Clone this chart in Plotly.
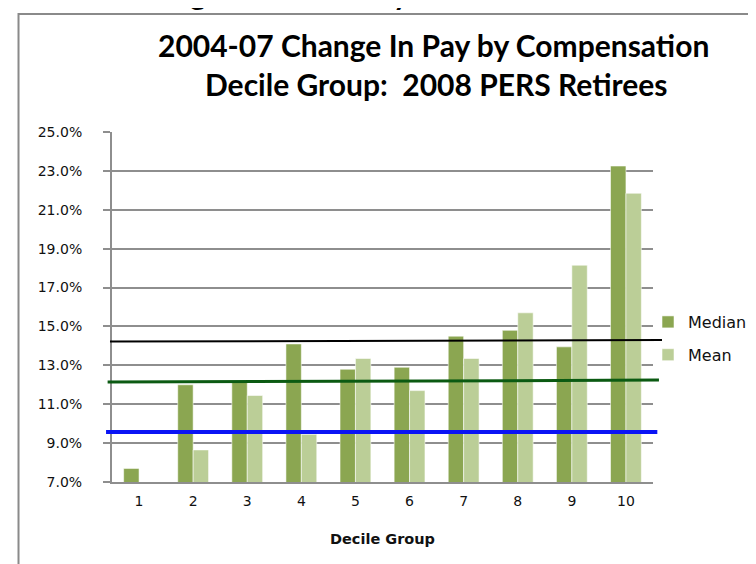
import plotly.graph_objects as go

# ---- data ----
deciles = ["1", "2", "3", "4", "5", "6", "7", "8", "9", "10"]
median_change = [7.7, 12.0, 12.15, 14.1, 12.8, 12.9, 14.5, 14.8, 13.95, 23.25]
mean_change = [7.0, 8.65, 11.45, 9.45, 13.35, 11.7, 13.35, 15.7, 18.15, 21.85]

# horizontal reference lines (value at left end, value at right end)
ref_black = [14.22, 14.30]
ref_green = [12.14, 12.24]
ref_blue = [9.57, 9.57]

y_ticks = [7, 9, 11, 13, 15, 17, 19, 21, 23, 25]
y_tick_labels = [f"{v:.1f}%" for v in y_ticks]

title_line1 = "2004-07 Change In Pay by Compensation"
title_line2 = "Decile Group:  2008 PERS Retirees"

MEDIAN_COLOR = "#8BA651"
MEAN_COLOR = "#BBCE97"
GRID = "#8e8e8e"

fig = go.Figure()
fig.add_bar(
    x=deciles, y=median_change, name="Median", legendgroup="median",
    marker=dict(color=MEDIAN_COLOR, line=dict(color="rgba(255,255,255,0.55)", width=1)),
)
fig.add_bar(
    x=deciles, y=mean_change, name="Mean", legendgroup="mean",
    marker=dict(color=MEAN_COLOR, line=dict(color="rgba(255,255,255,0.55)", width=1)),
)

shapes = [
    # outer chart frame (partly outside the picture)
    dict(type="rect", xref="paper", yref="paper", x0=-0.1728, x1=1.3, y0=-0.5, y1=1.337,
         line=dict(color="#8a8a8a", width=2), fillcolor="rgba(0,0,0,0)", layer="below"),
    dict(type="line", xref="paper", yref="y", x0=-0.0037, x1=1.0166,
         y0=ref_black[0], y1=ref_black[1], line=dict(color="#000000", width=2)),
    dict(type="line", xref="paper", yref="y", x0=-0.0081, x1=1.011,
         y0=ref_green[0], y1=ref_green[1], line=dict(color="#0B5A12", width=3)),
    dict(type="line", xref="paper", yref="y", x0=-0.011, x1=1.008,
         y0=ref_blue[0], y1=ref_blue[1], line=dict(color="#0A14F5", width=4)),
]

title_font = dict(family="Lato", size=30, color="#000000", weight="bold")
annotations = [
    dict(text="<b>" + title_line1 + "</b>", xref="paper", yref="paper", x=0.595, y=1.2486,
         xanchor="center", yanchor="middle", showarrow=False, font=title_font),
    dict(text="<b>" + title_line2 + "</b>", xref="paper", yref="paper", x=0.598, y=1.138,
         xanchor="center", yanchor="middle", showarrow=False, font=title_font),
    # clipped descenders of a previous title line at the very top
    dict(text="<b>g</b>", xref="paper", yref="paper", x=0.159, y=1.398,
         xanchor="center", yanchor="middle", showarrow=False, font=title_font),
    dict(text="<b>y</b>", xref="paper", yref="paper", x=0.534, y=1.398,
         xanchor="center", yanchor="middle", showarrow=False, font=title_font),
]

fig.update_layout(
    width=756, height=564,
    margin=dict(l=104, r=111, t=124, b=90, pad=0),
    paper_bgcolor="white", plot_bgcolor="white",
    barmode="group", bargap=0.43, bargroupgap=0,
    showlegend=True,
    legend=dict(x=0.9908, xanchor="left", y=0.5057, yanchor="top",
                font=dict(family="DejaVu Sans", size=16, color="#111111"),
                tracegroupgap=9, bgcolor="rgba(0,0,0,0)", traceorder="grouped"),
    shapes=shapes,
    annotations=annotations,
    xaxis=dict(
        type="category", showline=True, linecolor=GRID, linewidth=2,
        ticks="", showgrid=False, zeroline=False,
        tickfont=dict(family="DejaVu Sans", size=14, color="#111111"),
        ticklabelstandoff=5,
        title=dict(text="<b>Decile Group</b>", standoff=26,
                   font=dict(family="DejaVu Sans", size=14.5, color="#111111")),
    ),
    yaxis=dict(
        range=[7, 25], tickvals=y_ticks, ticktext=y_tick_labels,
        showgrid=True, gridcolor=GRID, gridwidth=1.8, zeroline=False,
        showline=True, linecolor=GRID, linewidth=2,
        ticks="outside", ticklen=7, tickcolor=GRID, tickwidth=1.8,
        tickfont=dict(family="DejaVu Sans", size=14, color="#111111"),
        ticklabelstandoff=18,
    ),
)

fig.write_html("out.html")
